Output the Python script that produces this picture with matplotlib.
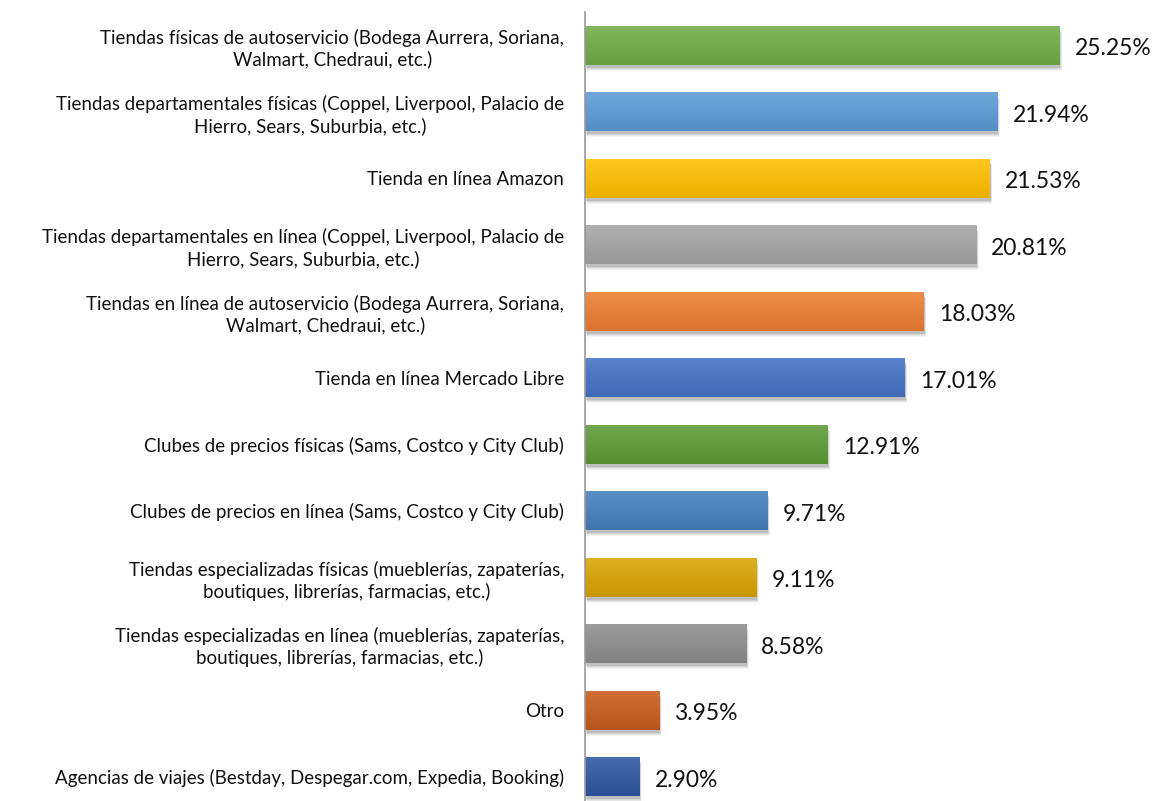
import numpy as np
import matplotlib.pyplot as plt
from matplotlib.colors import to_rgb
from matplotlib.patches import Rectangle

categories = [
    'Tiendas físicas de autoservicio (Bodega Aurrera, Soriana,\nWalmart, Chedraui, etc.)',
    'Tiendas departamentales físicas (Coppel, Liverpool, Palacio de\nHierro, Sears, Suburbia, etc.)',
    'Tienda en línea Amazon',
    'Tiendas departamentales en línea (Coppel, Liverpool, Palacio de\nHierro, Sears, Suburbia, etc.)',
    'Tiendas en línea de autoservicio (Bodega Aurrera, Soriana,\nWalmart, Chedraui, etc.)',
    'Tienda en línea Mercado Libre',
    'Clubes de precios físicas (Sams, Costco y City Club)',
    'Clubes de precios en línea (Sams, Costco y City Club)',
    'Tiendas especializadas físicas (mueblerías, zapaterías,\nboutiques, librerías, farmacias, etc.)',
    'Tiendas especializadas en línea (mueblerías, zapaterías,\nboutiques, librerías, farmacias, etc.)',
    'Otro',
    'Agencias de viajes (Bestday, Despegar.com, Expedia, Booking)',
]
values = [25.25, 21.94, 21.53, 20.81, 18.03, 17.01, 12.91, 9.71, 9.11, 8.58, 3.95, 2.90]
colors = ['#70AD47', '#5B9BD5', '#FFC000', '#A5A5A5', '#ED7D31', '#4472C4',
          '#5E9A36', '#4580BD', '#D9A400', '#8E8E8E', '#C85C1C', '#2F56A3']

plt.rcParams['font.family'] = ['Lato', 'DejaVu Sans']

fig = plt.figure(figsize=(11.61, 8.01), dpi=100)
ax = fig.add_axes([585 / 1161, -9 / 801, 564 / 1161, 798 / 801])

y = np.arange(len(values))
bars = ax.barh(y, values, height=0.58, color='none', edgecolor='none', zorder=3)

for bar, c, v in zip(bars, colors, values):
    x0, y0 = bar.get_x(), bar.get_y()
    w, h = bar.get_width(), bar.get_height()
    # soft shadow
    for k, a in enumerate([0.10, 0.08, 0.06, 0.04]):
        ax.add_patch(Rectangle((x0 + 0.04 + 0.03 * k, y0 + 0.05 + 0.015 * k), w, h,
                               facecolor='black', alpha=a, edgecolor='none', zorder=2))
    # vertical gradient, lighter on top
    base = np.array(to_rgb(c))
    t = np.linspace(0, 1, 64)[:, None]
    top = base + (1 - base) * 0.12
    bot = base * 0.92
    grad = top * (1 - t) + bot * t
    img = np.repeat(grad[:, None, :], 2, axis=1)
    ax.imshow(img, extent=(x0, x0 + w, y0 + h, y0), aspect='auto', zorder=3,
              interpolation='bilinear')
    ax.text(v + 0.8, bar.get_y() + h / 2 + 0.05, f'{v:.2f}%', va='center', ha='left',
            fontsize=16.5, color='#111111')

ax.set_xlim(0, 30)
ax.set_ylim(len(values) - 0.5, -0.5)
ax.set_yticks(y)
ax.set_yticklabels(categories, fontsize=13.5, multialignment='center', color='#111111',
                   linespacing=1.25)
ax.tick_params(axis='y', length=0, pad=15)
ax.set_xticks([])
for s in ['top', 'right', 'bottom']:
    ax.spines[s].set_visible(False)
ax.spines['left'].set_color('#9A9A9A')
ax.spines['left'].set_linewidth(1.2)
ax.spines['left'].set_zorder(5)

fig.savefig('out.png', dpi=100)
